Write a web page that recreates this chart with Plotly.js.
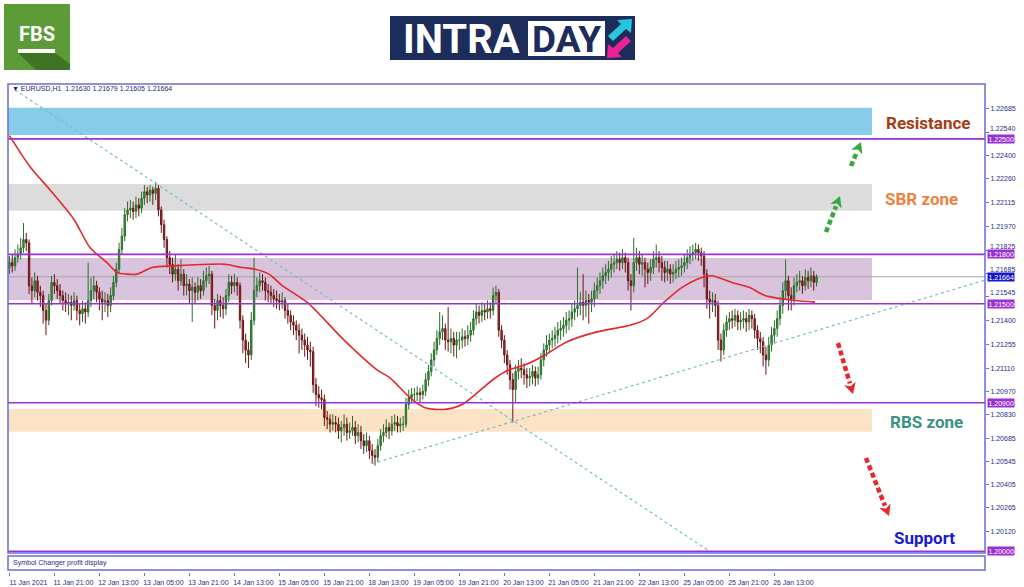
<!DOCTYPE html>
<html><head><meta charset="utf-8">
<script src="https://cdn.plot.ly/plotly-3.0.1.min.js"></script>
<style>html,body{margin:0;padding:0;background:#fff;}#chart{width:1024px;height:587px;}</style>
</head><body><div id="chart"></div>
<script>
// ---------- DATA (EURUSD H1) ----------
const openP = [
1.2172,1.2175,1.2173,1.2178,1.2180,1.2184,1.2189,1.2187,1.2161,1.2158,
1.2164,1.2157,1.2155,1.2146,1.2140,1.2152,1.2163,1.2161,1.2158,1.2155,
1.2152,1.2150,1.2151,1.2149,1.2152,1.2146,1.2144,1.2147,1.2145,1.2152,
1.2158,1.2161,1.2157,1.2153,1.2151,1.2152,1.2149,1.2155,1.2163,1.2171,
1.2183,1.2191,1.2204,1.2207,1.2208,1.2206,1.2210,1.2208,1.2214,1.2218,
1.2216,1.2219,1.2217,1.2220,1.2207,1.2198,1.2189,1.2178,1.2174,1.2168,
1.2171,1.2164,1.2168,1.2161,1.2162,1.2158,1.2160,1.2157,1.2161,1.2158,
1.2164,1.2167,1.2168,1.2149,1.2146,1.2152,1.2149,1.2147,1.2155,1.2163,
1.2161,1.2163,1.2161,1.2140,1.2128,1.2122,1.2119,1.2140,1.2158,1.2161,
1.2164,1.2163,1.2158,1.2157,1.2155,1.2153,1.2152,1.2151,1.2152,1.2146,
1.2143,1.2139,1.2137,1.2134,1.2131,1.2128,1.2125,1.2122,1.2121,1.2101,
1.2095,1.2093,1.2092,1.2081,1.2080,1.2077,1.2078,1.2077,1.2073,1.2075,
1.2077,1.2072,1.2073,1.2075,1.2070,1.2072,1.2067,1.2064,1.2067,1.2061,
1.2058,1.2057,1.2064,1.2070,1.2072,1.2075,1.2073,1.2077,1.2078,1.2076,
1.2077,1.2077,1.2089,1.2093,1.2095,1.2095,1.2096,1.2095,1.2097,1.2104,
1.2109,1.2116,1.2122,1.2129,1.2133,1.2135,1.2128,1.2127,1.2129,1.2125,
1.2128,1.2128,1.2130,1.2129,1.2131,1.2134,1.2141,1.2145,1.2143,1.2146,
1.2145,1.2147,1.2146,1.2155,1.2157,1.2134,1.2128,1.2119,1.2113,1.2104,
1.2098,1.2109,1.2111,1.2110,1.2107,1.2105,1.2106,1.2109,1.2105,1.2107,
1.2116,1.2122,1.2125,1.2128,1.2129,1.2131,1.2134,1.2135,1.2137,1.2140,
1.2141,1.2145,1.2147,1.2149,1.2151,1.2149,1.2152,1.2151,1.2153,1.2158,
1.2161,1.2164,1.2167,1.2169,1.2171,1.2174,1.2175,1.2177,1.2175,1.2178,
1.2175,1.2164,1.2161,1.2175,1.2178,1.2174,1.2175,1.2171,1.2169,1.2172,
1.2177,1.2178,1.2175,1.2172,1.2169,1.2171,1.2168,1.2169,1.2171,1.2172,
1.2173,1.2175,1.2178,1.2180,1.2181,1.2183,1.2181,1.2179,1.2168,1.2153,
1.2151,1.2152,1.2149,1.2128,1.2122,1.2134,1.2139,1.2141,1.2140,1.2143,
1.2139,1.2140,1.2141,1.2139,1.2143,1.2141,1.2134,1.2129,1.2127,1.2119,
1.2116,1.2125,1.2131,1.2135,1.2141,1.2149,1.2158,1.2164,1.2155,1.2153,
1.2161,1.2163,1.2164,1.2161,1.2166,1.2164,1.2167,1.2163];
const highP = [
1.2179,1.2180,1.2183,1.2186,1.2190,1.2199,1.2193,1.2189,1.2166,1.2169,
1.2167,1.2161,1.2158,1.2150,1.2156,1.2167,1.2168,1.2165,1.2162,1.2158,
1.2157,1.2156,1.2155,1.2157,1.2155,1.2150,1.2152,1.2151,1.2175,1.2166,
1.2167,1.2164,1.2160,1.2158,1.2157,1.2156,1.2160,1.2167,1.2175,1.2187,
1.2196,1.2208,1.2212,1.2213,1.2212,1.2215,1.2214,1.2218,1.2222,1.2221,
1.2222,1.2221,1.2224,1.2222,1.2209,1.2201,1.2191,1.2182,1.2178,1.2180,
1.2174,1.2177,1.2171,1.2168,1.2165,1.2166,1.2163,1.2166,1.2165,1.2170,
1.2172,1.2173,1.2170,1.2153,1.2156,1.2155,1.2154,1.2159,1.2168,1.2167,
1.2168,1.2166,1.2163,1.2143,1.2132,1.2127,1.2145,1.2178,1.2166,1.2169,
1.2168,1.2166,1.2162,1.2161,1.2159,1.2158,1.2156,1.2157,1.2154,1.2150,
1.2146,1.2143,1.2140,1.2138,1.2135,1.2132,1.2130,1.2127,1.2124,1.2105,
1.2100,1.2098,1.2095,1.2085,1.2083,1.2083,1.2082,1.2081,1.2079,1.2083,
1.2081,1.2078,1.2082,1.2079,1.2077,1.2076,1.2071,1.2072,1.2070,1.2065,
1.2062,1.2068,1.2074,1.2077,1.2080,1.2078,1.2082,1.2083,1.2082,1.2081,
1.2082,1.2093,1.2098,1.2099,1.2099,1.2100,1.2099,1.2101,1.2108,1.2113,
1.2120,1.2127,1.2134,1.2145,1.2143,1.2138,1.2148,1.2135,1.2133,1.2133,
1.2133,1.2135,1.2134,1.2137,1.2139,1.2146,1.2150,1.2149,1.2151,1.2150,
1.2152,1.2151,1.2160,1.2161,1.2159,1.2137,1.2131,1.2122,1.2116,1.2108,
1.2113,1.2116,1.2117,1.2114,1.2111,1.2111,1.2113,1.2112,1.2112,1.2120,
1.2126,1.2131,1.2132,1.2134,1.2136,1.2139,1.2140,1.2142,1.2145,1.2146,
1.2150,1.2152,1.2172,1.2157,1.2168,1.2158,1.2156,1.2158,1.2163,1.2166,
1.2169,1.2172,1.2174,1.2176,1.2179,1.2180,1.2182,1.2181,1.2183,1.2181,
1.2178,1.2168,1.2190,1.2184,1.2182,1.2180,1.2178,1.2175,1.2177,1.2182,
1.2186,1.2182,1.2179,1.2176,1.2176,1.2174,1.2174,1.2176,1.2177,1.2178,
1.2180,1.2183,1.2185,1.2186,1.2187,1.2186,1.2184,1.2182,1.2171,1.2158,
1.2157,1.2156,1.2152,1.2132,1.2138,1.2143,1.2145,1.2146,1.2147,1.2146,
1.2145,1.2146,1.2145,1.2147,1.2146,1.2144,1.2137,1.2133,1.2130,1.2124,
1.2130,1.2136,1.2140,1.2146,1.2154,1.2163,1.2177,1.2167,1.2160,1.2166,
1.2168,1.2170,1.2167,1.2171,1.2170,1.2172,1.2170,1.21679];
const lowP = [
1.2168,1.2169,1.2170,1.2175,1.2177,1.2181,1.2182,1.2156,1.2150,1.2154,
1.2152,1.2148,1.2138,1.2131,1.2137,1.2149,1.2156,1.2153,1.2150,1.2146,
1.2145,1.2143,1.2140,1.2146,1.2140,1.2137,1.2139,1.2138,1.2142,1.2148,
1.2153,1.2151,1.2146,1.2140,1.2145,1.2142,1.2145,1.2152,1.2160,1.2168,
1.2180,1.2188,1.2200,1.2202,1.2201,1.2202,1.2203,1.2205,1.2210,1.2211,
1.2212,1.2210,1.2213,1.2203,1.2193,1.2184,1.2172,1.2168,1.2163,1.2164,
1.2158,1.2161,1.2155,1.2155,1.2150,1.2139,1.2150,1.2152,1.2153,1.2155,
1.2160,1.2162,1.2143,1.2135,1.2140,1.2142,1.2141,1.2143,1.2151,1.2156,
1.2157,1.2155,1.2135,1.2120,1.2114,1.2111,1.2116,1.2137,1.2154,1.2157,
1.2158,1.2152,1.2151,1.2150,1.2148,1.2147,1.2146,1.2147,1.2141,1.2138,
1.2134,1.2131,1.2128,1.2120,1.2122,1.2118,1.2116,1.2112,1.2096,1.2088,
1.2087,1.2086,1.2076,1.2074,1.2072,1.2073,1.2072,1.2068,1.2066,1.2070,
1.2067,1.2068,1.2070,1.2065,1.2066,1.2062,1.2059,1.2060,1.2056,1.2053,
1.2052,1.2054,1.2061,1.2066,1.2069,1.2068,1.2070,1.2073,1.2072,1.2072,
1.2073,1.2075,1.2086,1.2090,1.2091,1.2091,1.2090,1.2092,1.2094,1.2100,
1.2106,1.2112,1.2119,1.2125,1.2128,1.2122,1.2121,1.2120,1.2118,1.2117,
1.2122,1.2123,1.2124,1.2125,1.2127,1.2131,1.2137,1.2138,1.2139,1.2140,
1.2141,1.2141,1.2143,1.2150,1.2130,1.2123,1.2114,1.2107,1.2098,1.2078,
1.2090,1.2104,1.2105,1.2101,1.2099,1.2100,1.2101,1.2100,1.2101,1.2104,
1.2112,1.2118,1.2120,1.2123,1.2124,1.2126,1.2128,1.2130,1.2132,1.2134,
1.2136,1.2140,1.2142,1.2143,1.2140,1.2142,1.2138,1.2145,1.2148,1.2153,
1.2156,1.2159,1.2162,1.2164,1.2166,1.2169,1.2171,1.2170,1.2171,1.2169,
1.2158,1.2146,1.2157,1.2170,1.2168,1.2167,1.2160,1.2162,1.2164,1.2168,
1.2172,1.2169,1.2164,1.2163,1.2164,1.2162,1.2163,1.2165,1.2166,1.2167,
1.2169,1.2171,1.2174,1.2176,1.2177,1.2176,1.2173,1.2160,1.2147,1.2141,
1.2145,1.2142,1.2122,1.2115,1.2119,1.2130,1.2134,1.2135,1.2136,1.2134,
1.2134,1.2135,1.2133,1.2134,1.2135,1.2129,1.2122,1.2120,1.2112,1.2107,
1.2112,1.2121,1.2126,1.2130,1.2137,1.2144,1.2153,1.2146,1.2146,1.2149,
1.2157,1.2158,1.2156,1.2158,1.2159,1.2160,1.2158,1.21605];
const closeP = [
1.2175,1.2173,1.2178,1.2180,1.2184,1.2189,1.2187,1.2161,1.2158,1.2164,
1.2157,1.2155,1.2146,1.2140,1.2152,1.2163,1.2161,1.2158,1.2155,1.2152,
1.2150,1.2151,1.2149,1.2152,1.2146,1.2144,1.2147,1.2145,1.2152,1.2158,
1.2161,1.2157,1.2153,1.2151,1.2152,1.2149,1.2155,1.2163,1.2171,1.2183,
1.2191,1.2204,1.2207,1.2208,1.2206,1.2210,1.2208,1.2214,1.2218,1.2216,
1.2219,1.2217,1.2220,1.2207,1.2198,1.2189,1.2178,1.2174,1.2168,1.2171,
1.2164,1.2168,1.2161,1.2162,1.2158,1.2160,1.2157,1.2161,1.2158,1.2164,
1.2167,1.2168,1.2149,1.2146,1.2152,1.2149,1.2147,1.2155,1.2163,1.2161,
1.2163,1.2161,1.2140,1.2128,1.2122,1.2119,1.2140,1.2158,1.2161,1.2164,
1.2163,1.2158,1.2157,1.2155,1.2153,1.2152,1.2151,1.2152,1.2146,1.2143,
1.2139,1.2137,1.2134,1.2131,1.2128,1.2125,1.2122,1.2121,1.2101,1.2095,
1.2093,1.2092,1.2081,1.2080,1.2077,1.2078,1.2077,1.2073,1.2075,1.2077,
1.2072,1.2073,1.2075,1.2070,1.2072,1.2067,1.2064,1.2067,1.2061,1.2058,
1.2057,1.2064,1.2070,1.2072,1.2075,1.2073,1.2077,1.2078,1.2076,1.2077,
1.2077,1.2089,1.2093,1.2095,1.2095,1.2096,1.2095,1.2097,1.2104,1.2109,
1.2116,1.2122,1.2129,1.2133,1.2135,1.2128,1.2127,1.2129,1.2125,1.2128,
1.2128,1.2130,1.2129,1.2131,1.2134,1.2141,1.2145,1.2143,1.2146,1.2145,
1.2147,1.2146,1.2155,1.2157,1.2134,1.2128,1.2119,1.2113,1.2104,1.2098,
1.2109,1.2111,1.2110,1.2107,1.2105,1.2106,1.2109,1.2105,1.2107,1.2116,
1.2122,1.2125,1.2128,1.2129,1.2131,1.2134,1.2135,1.2137,1.2140,1.2141,
1.2145,1.2147,1.2149,1.2151,1.2149,1.2152,1.2151,1.2153,1.2158,1.2161,
1.2164,1.2167,1.2169,1.2171,1.2174,1.2175,1.2177,1.2175,1.2178,1.2175,
1.2164,1.2161,1.2175,1.2178,1.2174,1.2175,1.2171,1.2169,1.2172,1.2177,
1.2178,1.2175,1.2172,1.2169,1.2171,1.2168,1.2169,1.2171,1.2172,1.2173,
1.2175,1.2178,1.2180,1.2181,1.2183,1.2181,1.2179,1.2168,1.2153,1.2151,
1.2152,1.2149,1.2128,1.2122,1.2134,1.2139,1.2141,1.2140,1.2143,1.2139,
1.2140,1.2141,1.2139,1.2143,1.2141,1.2134,1.2129,1.2127,1.2119,1.2116,
1.2125,1.2131,1.2135,1.2141,1.2149,1.2158,1.2164,1.2155,1.2153,1.2161,
1.2163,1.2164,1.2161,1.2166,1.2164,1.2167,1.2163,1.21664];

// moving average (red line), read at sample bars
const maBar = [0,7.4,14.5,23,28.7,34.7,38.3,41.8,45.4,50.7,58.9,71,76.7,82.7,87.4,92.3,97,105.8,119,130.7,135.4,142.5,147.8,155,161,167,172.7,177.7,183.4,190.5,198.3,208.9,220.7,226.7,232.8,239.2,246.3,249.8,256.9,263,268.7,274.7,279.3,286.5];
const maVal = [1.2252,1.2233,1.2219,1.2201,1.2184,1.2175,1.2169,1.2168,1.2168,1.2172,1.2173,1.2174,1.2174,1.2172,1.2171,1.2168,1.2161,1.2151,1.2128,1.2110,1.2105,1.2093,1.2087,1.2086,1.2089,1.2097,1.2105,1.2110,1.2113,1.2119,1.2127,1.2133,1.2137,1.2141,1.2151,1.2160,1.2166,1.2167,1.2163,1.2160,1.2155,1.2153,1.2152,1.2151];

// trend lines
const trendDownBar = [2, 248.8];
const trendDownVal = [1.22797, 1.20001];
const trendUpBar = [128.9, 346.9];
const trendUpVal = [1.2053, 1.21644];

// horizontal levels and zones
const levelPrices = [1.22500, 1.21800, 1.21500, 1.20900, 1.20000];
const lastPrice = 1.21664;
const zoneTop = [1.22689, 1.22226, 1.21778, 1.20862];
const zoneBottom = [1.22523, 1.22064, 1.21523, 1.20724];
const zoneLabels = ['Resistance', 'SBR zone', '', 'RBS zone'];

// axis ticks
const timeTickBars = [0,16,32,48,64,80,96,112,128,144,160,176,192,208,224,240,256,272];
const timeTickLabels = ['11 Jan 2021','11 Jan 21:00','12 Jan 13:00','13 Jan 05:00','13 Jan 21:00','14 Jan 13:00','15 Jan 05:00','15 Jan 21:00','18 Jan 13:00','19 Jan 05:00','19 Jan 21:00','20 Jan 13:00','21 Jan 05:00','21 Jan 21:00','22 Jan 13:00','25 Jan 05:00','25 Jan 21:00','26 Jan 13:00'];
const priceTicks = [1.22685,1.22540,1.22400,1.22260,1.22115,1.21970,1.21825,1.21685,1.21545,1.21400,1.21255,1.21110,1.20970,1.20830,1.20685,1.20545,1.20405,1.20265,1.20120,1.19980];
// tick labels that sit right next to a price box are lifted slightly
const liftedTicks = [1.22540, 1.21825, 1.21685, 1.21545, 1.19980];

// ---------- LAYOUT GEOMETRY ----------
const L = 8, R = 985, T = 84, B = 572, MAIN_B = 553, SUB_T = 556, SUB_B = 570;
const px = x => (x - L) / (R - L);
const py = y => (B - y) / (B - T);
const barIdx = closeP.map((_, i) => i);

const FRAME = '#6b6bd6';
const LEVEL = '#9b30d9';
const TICKFONT = {family:'Liberation Sans, Arial, sans-serif', size:7, color:'#2a2a8a'};
const shapes = [];
const annotations = [];

// zones
const zoneColors = ['#87cdea', '#dcdcdc', 'rgba(205,175,210,0.75)', '#fde3c6'];
zoneTop.forEach((t, k) => {
  shapes.push({type:'rect', xref:'paper', yref:'y', x0:0, x1:px(872), y0:zoneBottom[k], y1:t,
    fillcolor:zoneColors[k], line:{width:0}, layer:'below'});
});
// last price line
shapes.push({type:'line', xref:'paper', yref:'y', x0:0, x1:1, y0:lastPrice, y1:lastPrice,
  line:{color:'#a6a6a6', width:1}, layer:'below'});
// levels
levelPrices.forEach(p => {
  shapes.push({type:'line', xref:'paper', yref:'y', x0:0, x1:1, y0:p, y1:p,
    line:{color:LEVEL, width:1.6}, layer:'above'});
});
// frames
shapes.push({type:'rect', xref:'paper', yref:'paper', x0:0, x1:1, y0:py(MAIN_B), y1:1,
  line:{color:FRAME, width:1.5}, fillcolor:'rgba(0,0,0,0)'});
shapes.push({type:'rect', xref:'paper', yref:'paper', x0:0, x1:1, y0:py(SUB_B), y1:py(SUB_T),
  line:{color:FRAME, width:1.5}, fillcolor:'rgba(0,0,0,0)'});

// dashed arrows
function dashedArrow(x0, y0, x1, y1, color) {
  const dx = x1 - x0, dy = y1 - y0, len = Math.hypot(dx, dy), ux = dx/len, uy = dy/len;
  const hl = 11, hw = 6;
  const bx = x1 - ux*hl, by = y1 - uy*hl, nx = -uy, ny = ux;
  shapes.push({type:'line', xref:'paper', yref:'paper', x0:px(x0), y0:py(y0), x1:px(bx), y1:py(by),
    line:{color:color, width:4.5, dash:'5px,3px'}});
  shapes.push({type:'path', xref:'paper', yref:'paper',
    path:`M ${px(x1)} ${py(y1)} L ${px(bx+nx*hw)} ${py(by+ny*hw)} L ${px(bx+ux*3)} ${py(by+uy*3)} L ${px(bx-nx*hw)} ${py(by-ny*hw)} Z`,
    fillcolor:color, line:{width:0}});
}
dashedArrow(826, 232, 840, 196, '#35a83a');
dashedArrow(851, 166, 861, 142, '#35a83a');
dashedArrow(838, 343, 853, 394, '#e8262b');
dashedArrow(866, 458, 889, 516, '#e8262b');

// helper for centred paper annotations
function label(x, y, text, font) {
  annotations.push({xref:'paper', yref:'paper', x:px(x), y:py(y), xanchor:'center', yanchor:'middle',
    text:text, showarrow:false, font:font});
}

// zone labels
const labelStyle = [
  {x:928, y:123, color:'#a33d15'},
  {x:921, y:199, color:'#f0813f'},
  null,
  {x:926, y:422, color:'#3c9283'}
];
zoneLabels.forEach((txt, k) => {
  if (!txt) return;
  const s = labelStyle[k];
  label(s.x, s.y, '<b>'+txt+'</b>', {family:'Roboto, Open Sans, sans-serif', size:17, color:s.color});
});
label(924, 538, '<b>Support</b>', {family:'Roboto, Open Sans, sans-serif', size:17, color:'#1a1acb'});

// lifted tick labels (drawn as text just above their tick)
liftedTicks.forEach(v => {
  annotations.push({xref:'paper', yref:'y', x:1, xanchor:'left', yanchor:'bottom', xshift:4, yshift:-1, y:v,
    text:v.toFixed(5), showarrow:false, borderpad:0, font:TICKFONT});
});

// price boxes on the right axis
levelPrices.forEach(p => {
  annotations.push({xref:'paper', yref:'y', x:1, xanchor:'left', yanchor:'middle', xshift:2, y:p, text:p.toFixed(5), showarrow:false,
    bgcolor:'#9a2fd2', borderpad:0.5, font:{family:'Liberation Sans, Arial, sans-serif', size:7, color:'#ffffff'}});
});
annotations.push({xref:'paper', yref:'y', x:1, xanchor:'left', yanchor:'middle', xshift:2, y:lastPrice, text:lastPrice.toFixed(5), showarrow:false,
  bgcolor:'#1717c9', borderpad:0.5, font:{family:'Liberation Sans, Arial, sans-serif', size:7, color:'#ffffff'}});

// header & subwindow text
annotations.push({xref:'paper', yref:'paper', x:px(10), y:py(89), xanchor:'left', yanchor:'middle', showarrow:false,
  text:'▼ EURUSD,H1  ' + [openP[287], highP[287], lowP[287], closeP[287]].map(v => v.toFixed(5)).join(' '),
  font:{family:'Liberation Sans, Arial, sans-serif', size:7, color:'#1e1e78'}});
annotations.push({xref:'paper', yref:'paper', x:px(11), y:py(563), xanchor:'left', yanchor:'middle', showarrow:false,
  text:'Symbol Changer profit display',
  font:{family:'Liberation Sans, Arial, sans-serif', size:7, color:'#2a2a8a'}});

// ---------- LOGOS ----------
// FBS
shapes.push({type:'rect', xref:'paper', yref:'paper', x0:px(4), x1:px(70), y0:py(70), y1:py(4),
  fillcolor:'#5c9b38', line:{width:0}});
shapes.push({type:'path', xref:'paper', yref:'paper',
  path:`M ${px(18)} ${py(53)} L ${px(55)} ${py(53)} L ${px(70)} ${py(64)} L ${px(70)} ${py(70)} L ${px(36)} ${py(70)} Z`,
  fillcolor:'#3f7424', line:{width:0}});
shapes.push({type:'rect', xref:'paper', yref:'paper', x0:px(18), x1:px(55), y0:py(53), y1:py(49),
  fillcolor:'#ffffff', line:{width:0}});
label(36.5, 34, '<b>FBS</b>', {family:'Roboto, sans-serif', size:20, color:'#ffffff'});
// INTRADAY
shapes.push({type:'rect', xref:'paper', yref:'paper', x0:px(390), x1:px(635), y0:py(60), y1:py(16),
  fillcolor:'#1c2d5b', line:{width:0}});
shapes.push({type:'rect', xref:'paper', yref:'paper', x0:px(528), x1:px(605), y0:py(56), y1:py(21),
  fillcolor:'#ffffff', line:{width:0}});
label(461, 39, '<b>INTRA</b>', {family:'Roboto, sans-serif', size:40, color:'#ffffff'});
label(566.5, 39, '<b>DAY</b>', {family:'Roboto, sans-serif', size:37, color:'#1c2d5b'});
shapes.push({type:'path', xref:'paper', yref:'paper',
  path:`M ${px(632)} ${py(19)} L ${px(631)} ${py(33)} L ${px(626)} ${py(29)} L ${px(613)} ${py(41)} L ${px(608)} ${py(36)} L ${px(621)} ${py(24)} L ${px(617)} ${py(20)} Z`,
  fillcolor:'#27c6dc', line:{width:0}});
shapes.push({type:'path', xref:'paper', yref:'paper',
  path:`M ${px(607)} ${py(58)} L ${px(608)} ${py(44)} L ${px(613)} ${py(48)} L ${px(626)} ${py(36)} L ${px(631)} ${py(41)} L ${px(618)} ${py(53)} L ${px(622)} ${py(57)} Z`,
  fillcolor:'#ea2296', line:{width:0}});

// ---------- TRACES ----------
const traces = [
  {type:'candlestick', x:barIdx, open:openP, high:highP, low:lowP, close:closeP,
    increasing:{line:{color:'#2a6d2a', width:1}, fillcolor:'#3fa03f'},
    decreasing:{line:{color:'#6a1515', width:1}, fillcolor:'#a83030'},
    whiskerwidth:0, hoverinfo:'skip', showlegend:false},
  {type:'scatter', mode:'lines', x:maBar, y:maVal, line:{color:'#e1282b', width:1.6, shape:'spline', smoothing:0.8},
    hoverinfo:'skip', showlegend:false},
  {type:'scatter', mode:'lines', x:trendDownBar, y:trendDownVal, line:{color:'#78bccd', width:1.2, dash:'dot'},
    hoverinfo:'skip', showlegend:false},
  {type:'scatter', mode:'lines', x:trendUpBar, y:trendUpVal, line:{color:'#78bccd', width:1.2, dash:'dot'},
    hoverinfo:'skip', showlegend:false}
];

const layout = {
  width:1024, height:587,
  margin:{l:L, r:1024-R, t:T, b:587-B, pad:0},
  paper_bgcolor:'#ffffff', plot_bgcolor:'#ffffff',
  showlegend:false,
  xaxis:{range:[-0.5, 346.9], anchor:'free', position:0, showgrid:false, zeroline:false, showline:false,
    tickmode:'array', tickvals:timeTickBars, ticktext:timeTickLabels,
    ticks:'outside', ticklen:3, tickcolor:FRAME, ticklabelshift:19, ticklabelstandoff:1,
    tickfont:TICKFONT, rangeslider:{visible:false}, fixedrange:true},
  yaxis:{domain:[py(MAIN_B), 1], range:[1.19989, 1.22833], side:'right', showgrid:false, zeroline:false, showline:false,
    tickmode:'array', tickvals:priceTicks,
    ticktext:priceTicks.map(v => liftedTicks.includes(v) ? '' : v.toFixed(5)),
    ticks:'outside', ticklen:3, tickcolor:FRAME, tickfont:TICKFONT, fixedrange:true},
  shapes:shapes,
  annotations:annotations
};

Plotly.newPlot('chart', traces, layout, {displayModeBar:false, staticPlot:true});
</script>
</body></html>
